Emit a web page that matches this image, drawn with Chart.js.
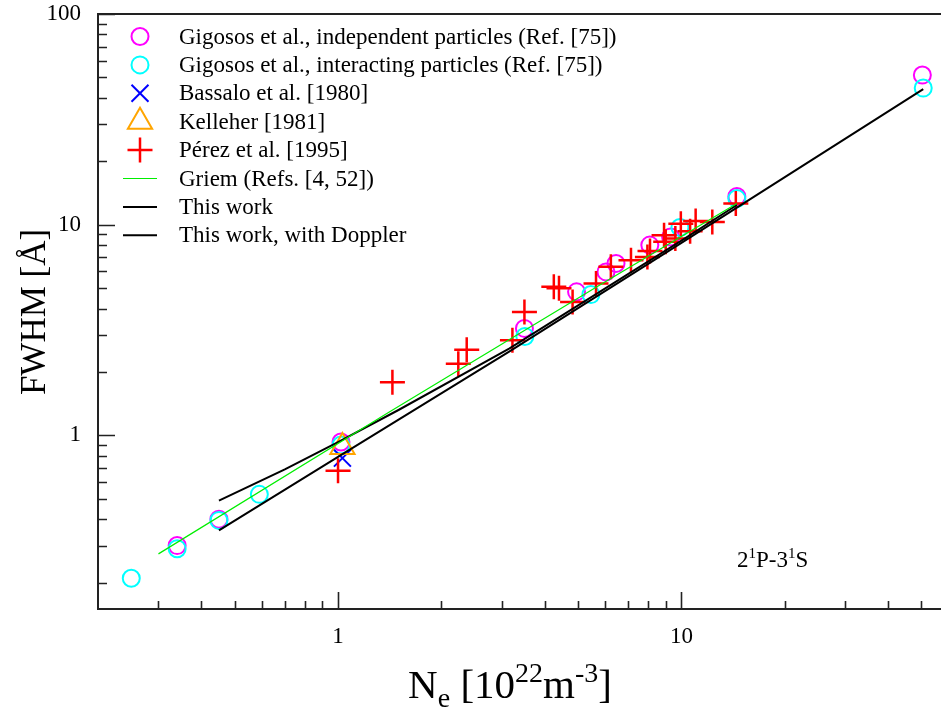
<!DOCTYPE html>
<html>
<head>
<meta charset="utf-8">
<script src="https://cdn.jsdelivr.net/npm/chart.js@4.4.0/dist/chart.umd.min.js"></script>
<style>
  html, body { margin: 0; padding: 0; background: #fff; overflow: hidden; }
</style>
</head>
<body>
<canvas id="chart" width="941" height="715"></canvas>
<script>
// Stark widths of the 2^1P-3^1S line: N_e [10^22 m^-3] against FWHM [Å]
const gigIndepNe = [0.34, 0.45, 1.02, 3.49, 4.95, 6.03, 6.45, 8.09, 9.3, 14.5, 50.3]
const gigIndepW = [0.30, 0.40, 0.93, 3.22, 4.80, 5.97, 6.54, 8.0, 8.75, 13.6, 51.3]

const gigInterNe = [0.25, 0.34, 0.45, 0.59, 1.02, 3.5, 5.45, 9.9, 14.5, 50.6]
const gigInterW = [0.21, 0.29, 0.395, 0.525, 0.90, 2.95, 4.66, 9.7, 13.3, 44.5]

const bassaloNe = [1.03]
const bassaloW = [0.78]

const kelleherNe = [1.03]
const kelleherW = [0.88]

const perezNe = [1.0, 1.44, 2.24, 2.37, 3.22, 3.49, 4.25, 4.4, 4.82, 5.64, 6.23, 7.13, 7.96, 8.1,
  8.9, 9.0, 9.6, 9.96, 10.6, 11.0, 12.3, 14.4]
const perezW = [0.68, 1.79, 2.19, 2.55, 2.83, 3.85, 5.07, 5.0, 4.30, 5.26, 6.31, 6.78, 7.03, 7.5,
  8.9, 8.3, 8.6, 10.1, 9.3, 10.4, 10.3, 12.6]

const griemNe = [0.3, 1.41, 5.77, 14.5]
const griemW = [0.274, 1.29, 5.16, 12.6]

const thisWorkNe = [0.45, 1.0, 3.15, 10, 50.6]
const thisWorkW = [0.354, 0.79, 2.5, 8.2, 44]

const dopplerNe = [0.45, 0.7, 1.0, 1.5, 3.15, 10, 14.5]
const dopplerW = [0.49, 0.69, 0.93, 1.32, 2.58, 8.4, 12.4]

const xTickVals = [0.3, 0.4, 0.5, 0.6, 0.7, 0.8, 0.9, 1, 2, 3, 4, 5, 6, 7, 8, 9, 10, 20, 30, 40, 50]
const yTickVals = [0.2, 0.3, 0.4, 0.5, 0.6, 0.7, 0.8, 0.9, 1, 2, 3, 4, 5, 6, 7, 8, 9,
  10, 20, 30, 40, 50, 60, 70, 80, 90, 100]
const xMajor = [1, 10]
const yMajor = [1, 10, 100]

const serif = "'Liberation Serif', 'Times New Roman', serif"
const axisColor = '#222'

const pts = (xs, ys) => xs.map((v, i) => ({ x: v, y: ys[i] }))

const series = [
  { label: 'Gigosos et al., independent particles (Ref. [75])', data: pts(gigIndepNe, gigIndepW),
    marker: 'circle', color: '#ff00ff', radius: 8.5, width: 2 },
  { label: 'Gigosos et al., interacting particles (Ref. [75])', data: pts(gigInterNe, gigInterW),
    marker: 'circle', color: '#00ffff', radius: 8.5, width: 2 },
  { label: 'Bassalo et al. [1980]', data: pts(bassaloNe, bassaloW),
    marker: 'crossRot', color: '#0000ff', radius: 12, width: 2 },
  { label: 'Kelleher [1981]', data: pts(kelleherNe, kelleherW),
    marker: 'triangle', color: '#ffa500', radius: 14, width: 2 },
  { label: 'Pérez et al. [1995]', data: pts(perezNe, perezW),
    marker: 'cross', color: '#ff0000', radius: 12.5, width: 2.5 },
  { label: 'Griem (Refs. [4, 52])', data: pts(griemNe, griemW), line: true, color: '#00ee00', width: 1.2 },
  { label: 'This work', data: pts(thisWorkNe, thisWorkW), line: true, color: '#000', width: 2 },
  { label: 'This work, with Doppler', data: pts(dopplerNe, dopplerW), line: true, color: '#000', width: 2 }
]

const datasets = series.map((s, i) => s.line ? {
  label: s.label, data: s.data, showLine: true, borderColor: s.color, borderWidth: s.width,
  pointRadius: 0, fill: false, order: 0, clip: false
} : {
  label: s.label, data: s.data, showLine: false, pointStyle: s.marker, pointRadius: s.radius,
  pointHoverRadius: s.radius, borderColor: s.color, backgroundColor: 'rgba(0,0,0,0)',
  pointBorderWidth: s.width, order: 10 - i, clip: false
})

function drawMarker(ctx, s, x, y) {
  ctx.strokeStyle = s.color
  ctx.lineWidth = s.width
  ctx.beginPath()
  if (s.line) {
    ctx.moveTo(x - 17, y); ctx.lineTo(x + 17, y)
  } else if (s.marker === 'circle') {
    ctx.arc(x, y, s.radius, 0, Math.PI * 2)
  } else if (s.marker === 'cross') {
    ctx.moveTo(x - s.radius, y); ctx.lineTo(x + s.radius, y)
    ctx.moveTo(x, y - s.radius); ctx.lineTo(x, y + s.radius)
  } else if (s.marker === 'crossRot') {
    const d = s.radius * Math.SQRT1_2
    ctx.moveTo(x - d, y - d); ctx.lineTo(x + d, y + d)
    ctx.moveTo(x - d, y + d); ctx.lineTo(x + d, y - d)
  } else if (s.marker === 'triangle') {
    for (let k = 0; k < 3; k++) {
      const a = k * 2 * Math.PI / 3
      const px = x + Math.sin(a) * s.radius, py = y - Math.cos(a) * s.radius
      k ? ctx.lineTo(px, py) : ctx.moveTo(px, py)
    }
    ctx.closePath()
  }
  ctx.stroke()
}

// text made of runs with their own size and vertical shift (sub/superscripts)
function richText(ctx, runs, x, y, align) {
  let total = 0
  runs.forEach(r => { ctx.font = r.size + 'px ' + serif; r.w = ctx.measureText(r.t).width; total += r.w })
  let cx = align === 'center' ? x - total / 2 : x
  ctx.textAlign = 'left'
  ctx.textBaseline = 'alphabetic'
  runs.forEach(r => {
    ctx.font = r.size + 'px ' + serif
    ctx.fillText(r.t, cx, y + (r.dy || 0))
    cx += r.w
  })
}

const decorations = {
  id: 'decorations',
  afterDraw(chart) {
    const { ctx, chartArea: a, scales: { x, y } } = chart
    ctx.save()
    ctx.strokeStyle = axisColor
    ctx.lineWidth = 2
    ctx.beginPath()
    ctx.moveTo(a.left - 1, a.top); ctx.lineTo(a.right, a.top)
    ctx.stroke()

    // inward tick marks
    ctx.lineWidth = 1.6
    ctx.beginPath()
    xTickVals.forEach(v => {
      const px = Math.round(x.getPixelForValue(v)) + 0.5
      const len = xMajor.includes(v) ? 17 : 8
      ctx.moveTo(px, a.bottom); ctx.lineTo(px, a.bottom - len)
    })
    yTickVals.forEach(v => {
      const py = Math.round(y.getPixelForValue(v)) + 0.5
      const len = yMajor.includes(v) ? 17 : 9
      ctx.moveTo(a.left, py); ctx.lineTo(a.left + len, py)
    })
    ctx.stroke()

    // legend
    series.forEach((s, i) => {
      const ly = a.top + 22.5 + i * 28.4
      drawMarker(ctx, s, a.left + 42, ly)
      ctx.fillStyle = '#000'
      ctx.font = '23px ' + serif
      ctx.textAlign = 'left'
      ctx.textBaseline = 'middle'
      ctx.fillText(s.label, a.left + 81, ly + 1)
    })

    // line identification
    ctx.fillStyle = '#000'
    richText(ctx, [
      { t: '2', size: 23 }, { t: '1', size: 15, dy: -9 }, { t: 'P-3', size: 23 },
      { t: '1', size: 15, dy: -9 }, { t: 'S', size: 23 }
    ], 737, 567, 'left')

    // axis titles
    richText(ctx, [
      { t: 'N', size: 41 }, { t: 'e', size: 28, dy: 9 }, { t: ' [10', size: 41 },
      { t: '22', size: 28, dy: -16 }, { t: 'm', size: 41 }, { t: '-3', size: 28, dy: -16 },
      { t: ']', size: 41 }
    ], 510, 698, 'center')

    ctx.translate(45, 312)
    ctx.rotate(-Math.PI / 2)
    richText(ctx, [{ t: 'FWHM [Å]', size: 35 }], 0, 0, 'center')
    ctx.restore()
  }
}

new Chart(document.getElementById('chart'), {
  type: 'scatter',
  data: { datasets },
  options: {
    responsive: false,
    animation: false,
    events: [],
    layout: { autoPadding: false, padding: { top: 14, right: 0, bottom: 0, left: 0 } },
    plugins: { legend: { display: false }, tooltip: { enabled: false } },
    scales: {
      x: {
        type: 'logarithmic',
        min: 0.2,
        max: 57,
        grid: { display: false },
        border: { display: true, color: axisColor, width: 2 },
        afterBuildTicks: scale => { scale.ticks = xTickVals.map(v => ({ value: v })) },
        afterFit: scale => { scale.height = 106 },
        ticks: {
          autoSkip: false,
          maxRotation: 0,
          padding: 0,
          color: '#000',
          // the tall line box pushes the labels down from the axis
          font: { family: serif, size: 23, lineHeight: 1.74 },
          callback: v => xMajor.includes(v) ? String(v) : ''
        }
      },
      y: {
        type: 'logarithmic',
        min: 0.15,
        max: 100,
        grid: { display: false },
        border: { display: true, color: axisColor, width: 2 },
        afterBuildTicks: scale => { scale.ticks = yTickVals.map(v => ({ value: v })) },
        afterFit: scale => { scale.width = 98 },
        ticks: {
          autoSkip: false,
          padding: 9,
          color: '#000',
          font: { family: serif, size: 23, lineHeight: 0.2 },
          callback: v => yMajor.includes(v) ? String(v) : ''
        }
      }
    }
  },
  plugins: [decorations]
})
</script>
</body>
</html>
